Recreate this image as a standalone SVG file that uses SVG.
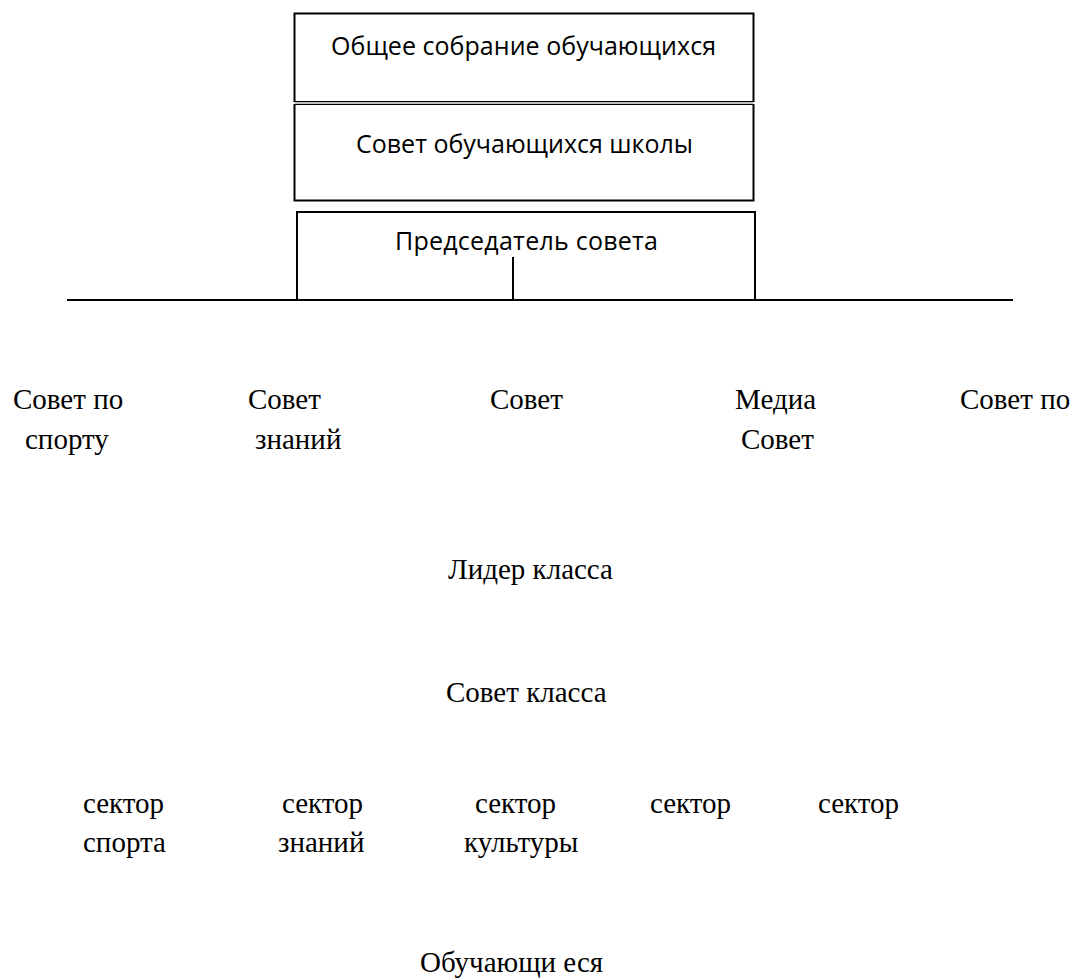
<svg xmlns="http://www.w3.org/2000/svg" width="1073" height="980" viewBox="0 0 1073 980">
<style>
.box{fill:none;stroke:#000;stroke-width:2}
.thin{fill:none;stroke:#000;stroke-width:1.2}
.ln{fill:none;stroke:#000;stroke-width:2}
.sans{font-family:"Open Sans","Noto Sans","DejaVu Sans",sans-serif;font-size:25px;fill:#000}
.serif{font-family:"Liberation Serif","Times New Roman",serif;font-size:29px;fill:#000}
</style>
<rect width="1073" height="980" fill="#fff"/>
<g id="general-meeting">
<path class="box" d="M294.5,102 V13.5 H753.5 V102"/>
<line class="thin" x1="294.5" y1="101.6" x2="753.5" y2="101.6"/>
<text class="sans" x="331" y="55" textLength="385">Общее собрание обучающихся</text>
</g>
<g id="school-council">
<path class="box" d="M294.5,104 V200.5 H753.5 V104"/>
<line class="thin" x1="294.5" y1="104.4" x2="753.5" y2="104.4"/>
<text class="sans" x="356" y="153" textLength="337">Совет обучающихся школы</text>
</g>
<g id="chairman">
<path class="box" d="M297,300 V212 H755 V300"/>
<text class="sans" x="395" y="250" textLength="263">Председатель совета</text>
</g>
<g id="connectors">
<line class="ln" x1="67" y1="300" x2="1013" y2="300"/>
<line class="ln" x1="513" y1="257" x2="513" y2="300"/>
</g>
<g id="sport-council"><text class="serif" x="13" y="409">Совет по</text><text class="serif" x="25" y="449">спорту</text></g>
<g id="knowledge-council"><text class="serif" x="248" y="409">Совет</text><text class="serif" x="255" y="449">знаний</text></g>
<g id="council"><text class="serif" x="490" y="409">Совет</text></g>
<g id="media-council"><text class="serif" x="735" y="409">Медиа</text><text class="serif" x="741" y="449">Совет</text></g>
<g id="council-on"><text class="serif" x="960" y="409">Совет по</text></g>
<g id="class-leader"><text class="serif" x="448" y="579">Лидер класса</text></g>
<g id="class-council"><text class="serif" x="446" y="702">Совет класса</text></g>
<g id="sector-sport"><text class="serif" x="83" y="813">сектор</text><text class="serif" x="83" y="852">спорта</text></g>
<g id="sector-knowledge"><text class="serif" x="282" y="813">сектор</text><text class="serif" x="278" y="852">знаний</text></g>
<g id="sector-culture"><text class="serif" x="475" y="813">сектор</text><text class="serif" x="464" y="852">культуры</text></g>
<g id="sector-4"><text class="serif" x="650" y="813">сектор</text></g>
<g id="sector-5"><text class="serif" x="818" y="813">сектор</text></g>
<g id="students"><text class="serif" x="420" y="972">Обучающи еся</text></g>
</svg>
